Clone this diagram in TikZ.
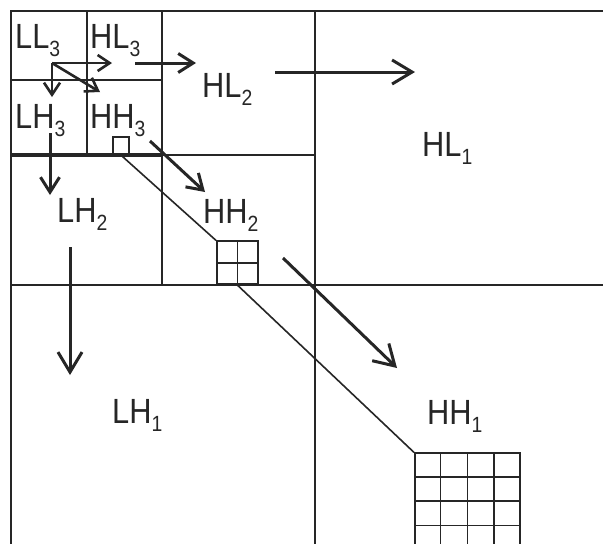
\documentclass[tikz,border=0pt]{standalone}
\usepackage{fontspec}
\setmainfont{Liberation Sans}
\usetikzlibrary{arrows.meta,calc}
\newcommand{\lbsub}[1]{\raisebox{-8pt}{\fontsize{22}{22}\selectfont #1}}
\newcommand{\lab}[2]{\scalebox{0.88}[1]{#1\lbsub{#2}}}
\begin{document}
\begin{tikzpicture}[x=1pt,y=-1pt,
  grid/.style={line width=1.6pt, draw=black!85},
  cell/.style={draw=black!85, line width=1.6pt, inner sep=0pt, anchor=south west},
  lbl/.style={anchor=base west, inner sep=0pt, font=\fontsize{35}{35}\selectfont, text=black!85},
  arr/.style={line width=3pt, draw=black!85},
  bighead/.style={arr, -{Straight Barb[length=20pt,width=24pt]}},
  midhead/.style={arr, -{Straight Barb[length=15pt,width=19pt]}},
  smallhead/.style={arr, line width=2.6pt, -{Straight Barb[length=12pt,width=16pt]}}]
\useasboundingbox (0,0) rectangle (603,544);
\clip (0,0) rectangle (603,544);
\fill[white] (0,0) rectangle (603,544);
% partition lines
\draw[grid] (11,560) -- (11,11) -- (620,11);
\draw[grid] (315,11) -- (315,560);
\draw[grid] (11,285) -- (620,285);
\draw[grid] (162,11) -- (162,285);
\draw[grid] (11,155) -- (315,155);
\draw[grid] (87,11) -- (87,155);
\draw[grid] (11,80) -- (162,80);
\draw[arr, line width=3.2pt] (11,155) -- (162,155);
% blocks
\node[cell, minimum width=16pt, minimum height=17pt] (sq) at (112,155) {};
\node[cell, minimum width=41pt, minimum height=43pt] (g2) at (216,285) {};
\draw[grid] (g2.north) -- (g2.south);
\draw[grid] (g2.west) -- (g2.east);
\node[cell, minimum width=105pt, minimum height=96pt] (g4) at (414,550) {};
\foreach \i in {1,2,3} {
  \draw[grid] ($(g4.north west)!\i/4!(g4.north east)$) -- ($(g4.south west)!\i/4!(g4.south east)$);
  \draw[grid] ($(g4.north west)!\i/4!(g4.south west)$) -- ($(g4.north east)!\i/4!(g4.south east)$);
}
\draw[grid] (sq.south) -- (g2.north west);
\draw[grid] (g2.south) -- (g4.north west);
% labels
\node[lbl] (ll3) at (15,48) {\lab{LL}{3}};
\node[lbl] (hl3) at (90,48) {\lab{HL}{3}};
\node[lbl] (lh3) at (15,128) {\lab{LH}{3}};
\node[lbl] (hh3) at (90,128) {\lab{HH}{3}};
\node[lbl] (hl2) at (202,97) {\lab{HL}{2}};
\node[lbl] (lh2) at (57,222) {\lab{LH}{2}};
\node[lbl] (hh2) at (203,223) {\lab{HH}{2}};
\node[lbl] (hl1) at (422,156) {\lab{HL}{1}};
\node[lbl] (lh1) at (112,423) {\lab{LH}{1}};
\node[lbl] (hh1) at (427,424) {\lab{HH}{1}};
% arrow end points
\coordinate (o3) at (52,63);
\coordinate (t3a) at (112,63);
\coordinate (t3b) at (52,97);
\coordinate (t3c) at (100,92);
\coordinate (s2a) at (135,63);
\coordinate (t2a) at (196,63);
\coordinate (s1a) at (275,72);
\coordinate (t1a) at (415,72);
\coordinate (s2b) at (50,133);
\coordinate (t2b) at (50,195);
\coordinate (s1b) at (70,247);
\coordinate (t1b) at (70,375);
\coordinate (s2c) at (150,141);
\coordinate (t2c) at (205,192);
\coordinate (s1c) at (283,258);
\coordinate (t1c) at (397,368);
% arrows
\draw[smallhead] (o3) -- (t3a);
\draw[smallhead] (o3) -- (t3b);
\draw[smallhead] (o3) -- (t3c);
\draw[midhead] (s2a) -- (t2a);
\draw[bighead] (s1a) -- (t1a);
\draw[midhead] (s2b) -- (t2b);
\draw[bighead] (s1b) -- (t1b);
\draw[midhead] (s2c) -- (t2c);
\draw[bighead] (s1c) -- (t1c);
\end{tikzpicture}
\end{document}
